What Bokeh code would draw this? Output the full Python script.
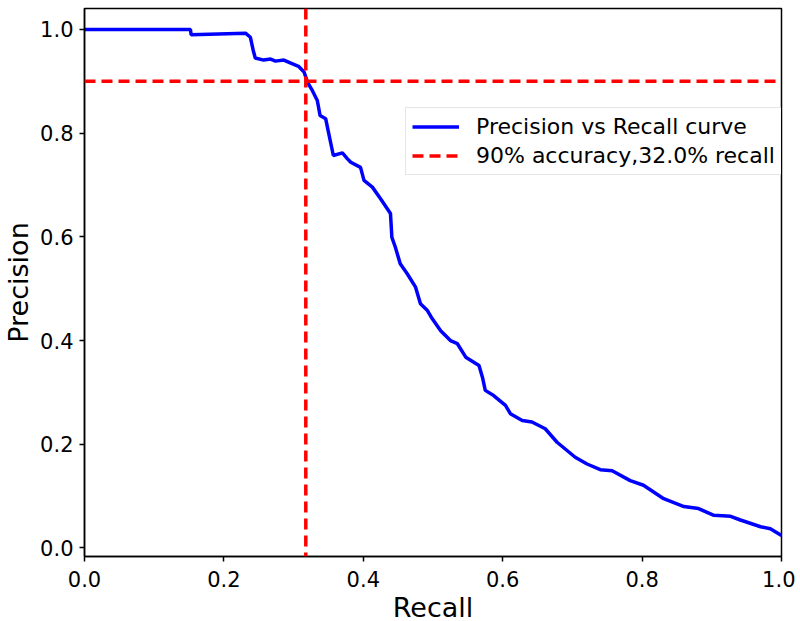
from bokeh.plotting import figure
from bokeh.models import Range1d, FixedTicker, Span, Legend, LegendItem, ColumnDataSource, PrintfTickFormatter
from bokeh.embed import file_html
from bokeh.resources import INLINE

# ---- data ----
recall = [0.0, 0.152, 0.153, 0.231, 0.238, 0.242, 0.245, 0.257, 0.267, 0.274, 0.286,
          0.296, 0.307, 0.315, 0.320, 0.327, 0.334, 0.338, 0.346, 0.350, 0.355, 0.357,
          0.370, 0.377, 0.382, 0.396, 0.401, 0.413, 0.425, 0.439, 0.441, 0.446, 0.453,
          0.463, 0.475, 0.482, 0.492, 0.499, 0.511, 0.525, 0.535, 0.547, 0.566, 0.571,
          0.575, 0.587, 0.604, 0.611, 0.628, 0.642, 0.661, 0.678, 0.704, 0.721, 0.740,
          0.757, 0.783, 0.802, 0.831, 0.860, 0.881, 0.903, 0.927, 0.941, 0.970, 0.984, 1.0]
precision = [1.0, 1.0, 0.990, 0.993, 0.985, 0.960, 0.945, 0.941, 0.943, 0.939, 0.941,
             0.935, 0.929, 0.918, 0.898, 0.882, 0.863, 0.834, 0.828, 0.802, 0.770, 0.757,
             0.762, 0.751, 0.744, 0.734, 0.709, 0.696, 0.673, 0.645, 0.599, 0.580, 0.548,
             0.529, 0.503, 0.471, 0.458, 0.442, 0.419, 0.400, 0.394, 0.368, 0.352, 0.329,
             0.304, 0.294, 0.275, 0.259, 0.246, 0.243, 0.230, 0.204, 0.175, 0.162, 0.151,
             0.149, 0.130, 0.121, 0.095, 0.080, 0.076, 0.063, 0.061, 0.054, 0.041, 0.037, 0.024]
threshold_precision = 0.9
threshold_recall = 0.3175
ticks = [0.0, 0.2, 0.4, 0.6, 0.8, 1.0]
curve_label = "Precision vs Recall curve"
thresh_label = "90% accuracy,32.0% recall"

FONT = "DejaVu Sans"

p = figure(frame_width=697, frame_height=548, output_backend="svg", toolbar_location=None,
           x_range=Range1d(0.0, 1.0), y_range=Range1d(-0.0164, 1.0405),
           min_border_left=81, min_border_top=8, min_border_right=14, min_border_bottom=0)

p.grid.visible = False
p.background_fill_color = "white"
p.border_fill_color = "white"
p.outline_line_color = "black"
p.outline_line_width = 1.5
p.outline_line_alpha = 1.0

for ax in (p.xaxis[0], p.yaxis[0]):
    ax.ticker = FixedTicker(ticks=ticks)
    ax.formatter = PrintfTickFormatter(format="%.1f")
    ax.axis_line_color = "black"
    ax.axis_line_width = 1.5
    ax.major_tick_line_color = "black"
    ax.major_tick_line_width = 1.5
    ax.major_tick_in = 0
    ax.major_tick_out = 5
    ax.minor_tick_line_color = None
    ax.major_label_text_font = FONT
    ax.major_label_text_font_size = "21px"
    ax.major_label_text_color = "black"
    ax.axis_label_text_font = FONT
    ax.axis_label_text_font_size = "27px"
    ax.axis_label_text_font_style = "normal"
    ax.axis_label_text_color = "black"

p.xaxis[0].axis_label = "Recall"
p.yaxis[0].axis_label = "Precision"
p.xaxis[0].major_label_standoff = 9
p.yaxis[0].major_label_standoff = 6
p.xaxis[0].axis_label_standoff = 2
p.yaxis[0].axis_label_standoff = 3

src = ColumnDataSource(dict(recall=recall, precision=precision))
curve = p.line("recall", "precision", source=src, line_color="#0000ff", line_width=3.5)

hline = Span(location=threshold_precision, dimension="width", line_color="#ff0000",
             line_width=3.5, line_dash="11 6")
vline = Span(location=threshold_recall, dimension="height", line_color="#ff0000",
             line_width=3.5, line_dash="11 6")
p.add_layout(hline)
p.add_layout(vline)

# glyph used only for the dashed legend entry
dash_glyph = p.line([threshold_recall, threshold_recall], [threshold_precision, threshold_precision],
                    line_color="#ff0000", line_width=3.5, line_dash="11 6")

legend = Legend(items=[LegendItem(label=curve_label, renderers=[curve]),
                       LegendItem(label=thresh_label, renderers=[dash_glyph])],
                location=(321, 381))
legend.label_text_font = FONT
legend.label_text_font_size = "22px"
legend.label_text_color = "black"
legend.glyph_width = 47
legend.glyph_height = 25
legend.label_height = 25
legend.label_standoff = 17
legend.spacing = 4
legend.padding = 6
legend.margin = 0
legend.border_line_color = "#cccccc"
legend.border_line_width = 1.2
legend.background_fill_color = "white"
legend.background_fill_alpha = 0.9
p.add_layout(legend, "center")

open("out.html", "w").write(file_html(p, INLINE))
